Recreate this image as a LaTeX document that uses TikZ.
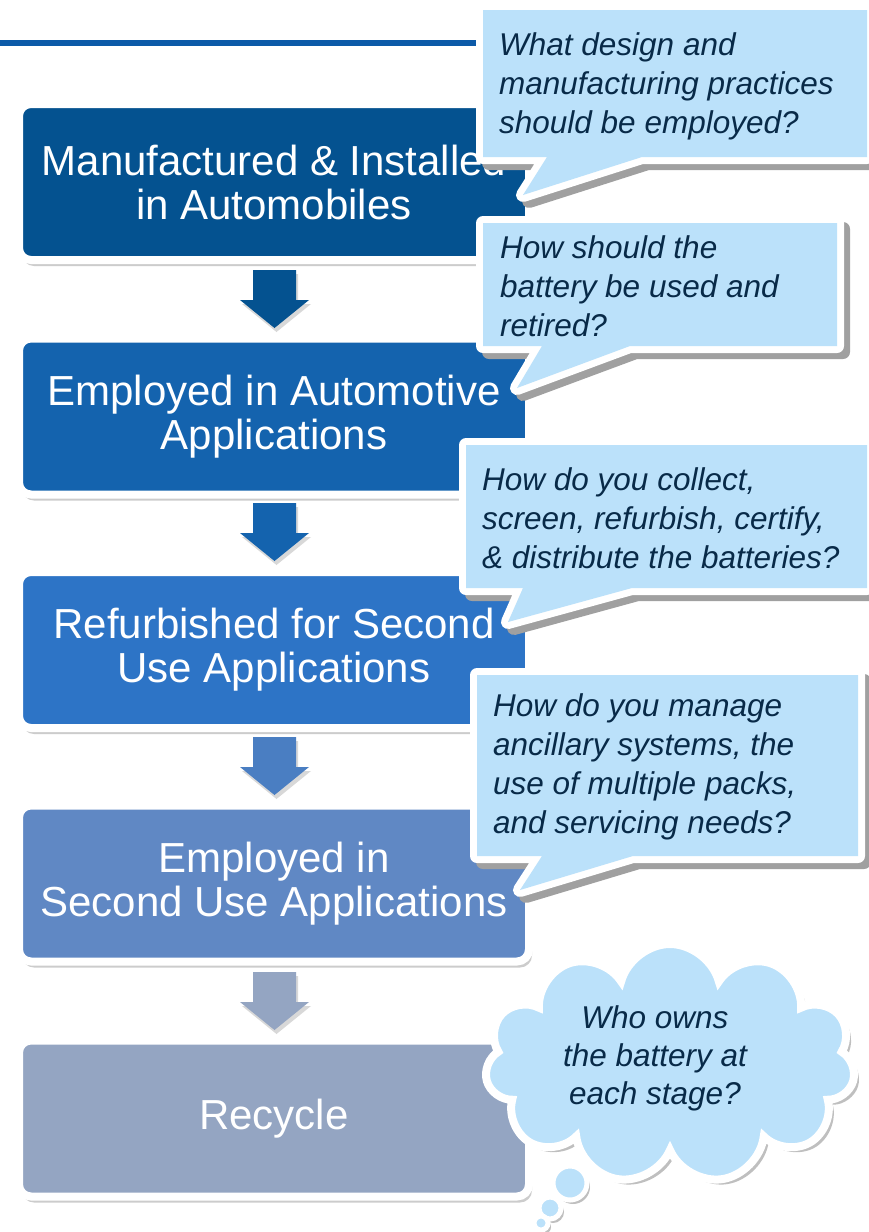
\documentclass[tikz,border=0pt]{standalone}
\usepackage{fontspec}
\setmainfont{Liberation Sans}
\usetikzlibrary{shapes.symbols,shadows,calc}
\definecolor{c1}{RGB}{4,82,144}
\definecolor{c2}{RGB}{20,99,174}
\definecolor{c3}{RGB}{45,116,198}
\definecolor{c4}{RGB}{96,136,196}
\definecolor{c5}{RGB}{148,165,194}
\definecolor{a3}{RGB}{74,126,194}
\definecolor{cb}{RGB}{187,225,250}
\definecolor{ct}{RGB}{8,42,72}
\definecolor{rulec}{RGB}{12,90,168}
\definecolor{shc}{RGB}{160,160,160}
\newcommand{\drawcallout}[1]{%
  \draw[shc, fill=shc, line width=14pt, line join=round, shift={(6,6)}] #1;
  \draw[white, fill=white, line width=14pt, line join=round] #1;
  \fill[cb] #1;}
\newcommand{\blockarrow}[3]{%
  \fill[#2, drop shadow={shadow xshift=2pt, shadow yshift=-4pt, opacity=0.3}]
    (253,#1) -- (296,#1) -- (296,#1+30) -- (309,#1+30) -- (274.5,#1+58) -- (240,#1+30) -- (253,#1+30) -- cycle;
  \coordinate (#3) at (274.5,#1+58);}
\tikzset{
  stagebox/.style={rounded corners=12pt, minimum width=510pt, minimum height=156pt,
    draw=white, line width=8pt, align=center, text=white, inner sep=0pt,
    font=\fontsize{42}{44}\selectfont,
    drop shadow={shadow xshift=3pt, shadow yshift=-6pt, opacity=0.4}},
  qtext/.style={anchor=west, align=left, text=ct, inner sep=0pt,
    font=\itshape\fontsize{31.5}{39}\selectfont},
  bubble/.style={circle, fill=cb, draw=white, line width=5pt, inner sep=0pt,
    drop shadow={shadow xshift=3pt, shadow yshift=-4pt, opacity=0.5}}
}
\begin{document}
\begin{tikzpicture}[x=1pt,y=-1pt]
\useasboundingbox (0,0) rectangle (869,1232);
\fill[white] (0,0) rectangle (869,1232);
% title rule
\fill[rulec] (0,40) rectangle (485,46);
% stage boxes
\node[stagebox, fill=c1] (b1) at (274,182) {Manufactured \& Installed\\in Automobiles};
\node[stagebox, fill=c2] (b2) at (274,416.5) {Employed in Automotive\\Applications};
\node[stagebox, fill=c3] (b3) at (274,650) {Refurbished for Second\\Use Applications};
\node[stagebox, fill=c4] (b4) at (274,883.5) {Employed in\\Second Use Applications};
\node[stagebox, fill=c5] (b5) at (274,1118.5) {Recycle};
% block arrows
\blockarrow{270}{c1}{t1}
\blockarrow{503}{c2}{t2}
\blockarrow{737}{a3}{t3}
\blockarrow{972}{c5}{t4}
% callouts
\drawcallout{(483,10) -- (867,10) -- (867,157) -- (642,157) -- (523,195) -- (547,157) -- (483,157) -- cycle}
\node[qtext] (q1) at (499,86) {What design and\\manufacturing practices\\should be employed?};
\drawcallout{(483,223) -- (837,223) -- (837,346) -- (630,346) -- (517,388) -- (542,346) -- (483,346) -- cycle}
\node[qtext] (q2) at (500,286) {How should the\\battery be used and\\retired?};
\drawcallout{(466,445) -- (867,445) -- (867,588) -- (632,588) -- (508,622) -- (523,588) -- (466,588) -- cycle}
\node[qtext] (q3) at (482,518) {How do you collect,\\screen, refurbish, certify,\\\& distribute the batteries?};
\drawcallout{(477,675) -- (858,675) -- (858,856) -- (633,856) -- (520,890) -- (542,856) -- (477,856) -- cycle}
\node[qtext] (q4) at (493,767) {How do you manage\\ancillary systems, the\\use of multiple packs,\\and servicing needs?};
% thought cloud
\node[cloud, cloud puffs=11, aspect=1.55, minimum width=370pt, minimum height=240pt,
  fill=cb, draw=white, line width=8pt,
  drop shadow={shadow xshift=5pt, shadow yshift=-5pt, opacity=0.5}] (cloud) at (670,1064) {};
\node[bubble, minimum size=34pt] (bb1) at (570,1183) {};
\node[bubble, minimum size=22pt] (bb2) at (550,1208) {};
\node[bubble, minimum size=14pt] (bb3) at (541,1223) {};
\node[text=ct, align=center, inner sep=0pt, font=\itshape\fontsize{31.5}{38}\selectfont] (q5) at (655,1058) {Who owns\\the battery at\\each stage?};
\end{tikzpicture}
\end{document}
